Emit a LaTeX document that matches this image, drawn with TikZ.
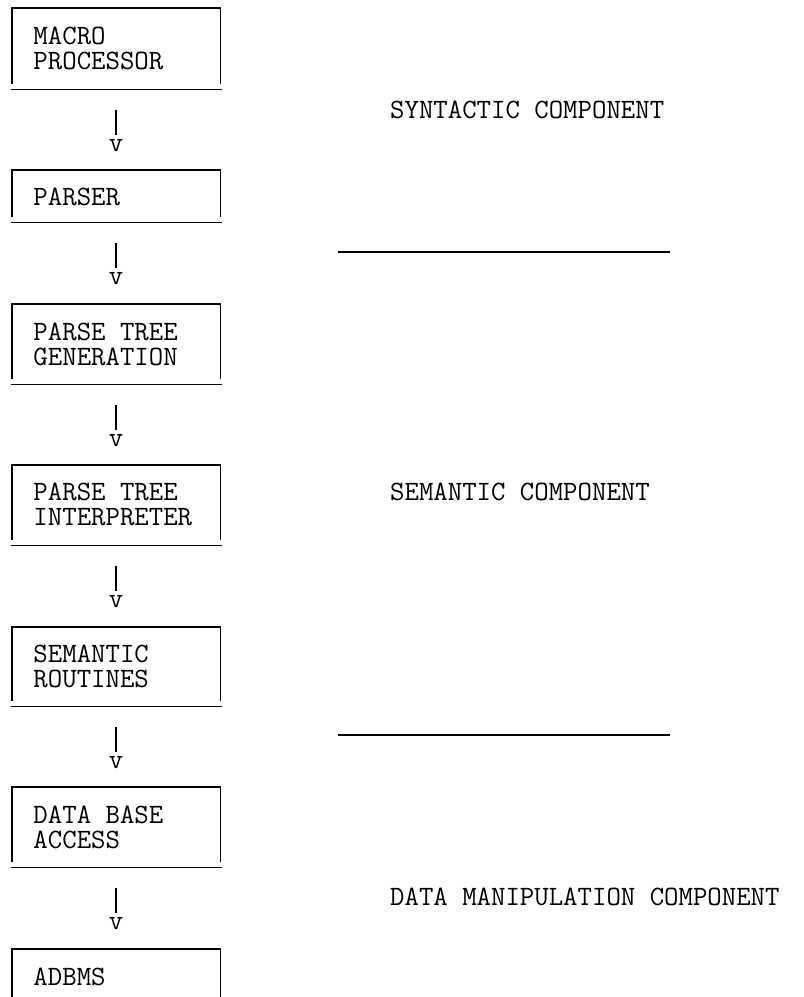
\documentclass[tikz,border=0pt]{standalone}
\begin{document}
\begin{tikzpicture}[x=1pt,y=1pt,
  tbox/.style={rectangle, inner sep=0pt, minimum width=208pt, anchor=north},
  ink/.style={line width=1.4pt},
  stem/.style={line width=1.3pt, shorten <=21pt, shorten >=4pt},
  typed/.style={inner sep=0pt, anchor=base west, font=\ttfamily\fontsize{28}{25}\selectfont},
  vmark/.style={inner sep=0pt, anchor=base, font=\ttfamily\fontsize{28}{25}\selectfont},
]
\fill[white] (0,0) rectangle (804,-997);
\useasboundingbox (0,0) rectangle (804,-997);

% frames of the processing stages
\node[tbox, minimum height=81pt] (b1) at (116,-8) {};
\node[tbox, minimum height=52pt] (b2) at (116,-170) {};
\node[tbox, minimum height=80pt] (b3) at (116,-304) {};
\node[tbox, minimum height=80pt] (b4) at (116,-465) {};
\node[tbox, minimum height=79pt] (b5) at (116,-627) {};
\node[tbox, minimum height=80pt] (b6) at (116,-787) {};
\node[tbox, minimum height=81pt] (b7) at (116,-949) {};

% typewriter-style borders: sides stop short of a wider bottom rule
\foreach \b in {b1,b2,b3,b4,b5,b6}{
  \draw[ink] ([yshift=5pt]\b.south west) -- (\b.north west) -- (\b.north east) -- ([yshift=5pt]\b.south east);
  \draw[ink] ([xshift=-1pt]\b.south west) -- ([xshift=2pt]\b.south east);
}
\draw[ink] ([yshift=-50pt]b7.north west) -- (b7.north west) -- (b7.north east) -- ([yshift=-50pt]b7.north east);

% stage names
\node[typed] (t1) at ([xshift=21.5pt,yshift=-36pt]b1.north west) {\begin{tabular}[t]{@{}l@{}}MACRO\\PROCESSOR\end{tabular}};
\node[typed] (t2) at ([xshift=21.5pt,yshift=-35pt]b2.north west) {PARSER};
\node[typed] (t3) at ([xshift=21.5pt,yshift=-36pt]b3.north west) {\begin{tabular}[t]{@{}l@{}}PARSE TREE\\GENERATION\end{tabular}};
\node[typed] (t4) at ([xshift=21.5pt,yshift=-35pt]b4.north west) {\begin{tabular}[t]{@{}l@{}}PARSE TREE\\INTERPRETER\end{tabular}};
\node[typed] (t5) at ([xshift=21.5pt,yshift=-35pt]b5.north west) {\begin{tabular}[t]{@{}l@{}}SEMANTIC\\ROUTINES\end{tabular}};
\node[typed] (t6) at ([xshift=21.5pt,yshift=-36pt]b6.north west) {\begin{tabular}[t]{@{}l@{}}DATA BASE\\ACCESS\end{tabular}};
\node[typed] (t7) at ([xshift=21.5pt,yshift=-36pt]b7.north west) {ADBMS};

% typed arrows: a bar ending in a letter v
\foreach \b/\n in {b1/b2,b2/b3,b3/b4,b4/b5,b5/b6,b6/b7}{
  \node[vmark] (v\b) at ([yshift=-62pt]\b.south) {v};
  \draw[stem] (\b.south) -- (v\b.north);
}

% component labels and dividers
\node[typed] (syn) at (390,-118) {SYNTACTIC COMPONENT};
\node[typed] (sem) at (390,-500) {SEMANTIC COMPONENT};
\node[typed] (dml) at (390,-905) {DATA MANIPULATION COMPONENT};
\coordinate (d1a) at (338,-252);
\coordinate (d1b) at (670,-252);
\coordinate (d2a) at (338,-735);
\coordinate (d2b) at (670,-735);
\draw[ink] (d1a) -- (d1b);
\draw[ink] (d2a) -- (d2b);
\end{tikzpicture}
\end{document}
